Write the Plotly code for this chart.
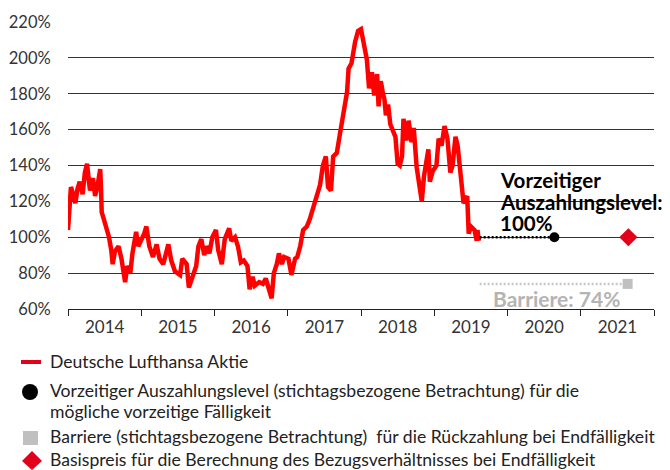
import plotly.graph_objects as go

# ---- data -------------------------------------------------------------
years = [2014.00, 2014.02, 2014.04, 2014.07, 2014.10, 2014.13, 2014.16, 2014.20, 2014.23, 2014.26,
         2014.30, 2014.34, 2014.37, 2014.40, 2014.44, 2014.45, 2014.46, 2014.49, 2014.53, 2014.56,
         2014.59, 2014.61, 2014.64, 2014.69, 2014.73, 2014.78, 2014.81, 2014.85, 2014.88, 2014.93,
         2014.96, 2015.01, 2015.04, 2015.07, 2015.11, 2015.16, 2015.21, 2015.25, 2015.30, 2015.37,
         2015.41, 2015.46, 2015.53, 2015.56, 2015.62, 2015.65, 2015.70, 2015.75, 2015.78, 2015.82,
         2015.86, 2015.89, 2015.93, 2015.97, 2016.02, 2016.05, 2016.10, 2016.14, 2016.20, 2016.23,
         2016.28, 2016.32, 2016.36, 2016.40, 2016.45, 2016.48, 2016.52, 2016.55, 2016.61, 2016.66,
         2016.70, 2016.75, 2016.78, 2016.81, 2016.85, 2016.88, 2016.92, 2016.95, 2017.01, 2017.05,
         2017.10, 2017.13, 2017.17, 2017.21, 2017.26, 2017.30, 2017.35, 2017.39, 2017.44, 2017.48,
         2017.52, 2017.55, 2017.59, 2017.62, 2017.67, 2017.71, 2017.75, 2017.81, 2017.83, 2017.87,
         2017.92, 2017.96, 2018.00, 2018.02, 2018.08, 2018.11, 2018.15, 2018.18, 2018.22, 2018.24,
         2018.27, 2018.30, 2018.32, 2018.34, 2018.37, 2018.40, 2018.43, 2018.47, 2018.50, 2018.53,
         2018.56, 2018.58, 2018.62, 2018.65, 2018.69, 2018.72, 2018.76, 2018.80, 2018.83, 2018.86,
         2018.90, 2018.92, 2018.94, 2018.98, 2019.03, 2019.06, 2019.10, 2019.14, 2019.18, 2019.22,
         2019.25, 2019.29, 2019.32, 2019.37, 2019.40, 2019.45, 2019.47, 2019.50, 2019.55, 2019.58,
         2019.59, 2019.61]
share_pct = [104, 121, 128, 124, 119, 127, 131, 124, 136, 141,
             126, 133, 123, 128, 138, 128, 114, 110, 104, 100,
             93, 85, 92, 95, 88, 75, 84, 80, 91, 103,
             95, 99, 102, 106, 95, 89, 96, 88, 85, 96,
             87, 81, 79, 88, 85, 72, 78, 84, 95, 99,
             90, 95, 91, 100, 104, 93, 85, 99, 105, 98,
             100, 95, 86, 87, 84, 71, 78, 73, 75, 74,
             77, 71, 66, 80, 85, 91, 85, 89, 88, 79,
             88, 89, 95, 104, 106, 110, 117, 121, 129, 140,
             145, 128, 126, 145, 147, 157, 168, 181, 194, 197,
             209, 215, 216, 211, 199, 183, 192, 179, 191, 173,
             187, 180, 177, 168, 174, 163, 160, 156, 141, 140,
             145, 166, 154, 165, 153, 161, 139, 130, 120, 134,
             142, 149, 131, 137, 140, 155, 151, 162, 155, 136,
             140, 156, 151, 127, 119, 123, 102, 106, 104, 98,
             104, 98]

start_year = 2019.62
early_redemption_year = 2020.64
early_redemption_level = 100
barrier_year = 2021.64
barrier_level = 74
strike_year = 2021.65
strike_level = 100

year_labels = ["2014", "2015", "2016", "2017", "2018", "2019", "2020", "2021"]
y_ticks = [60, 80, 100, 120, 140, 160, 180, 200, 220]

legend_texts = [
    "Deutsche Lufthansa Aktie",
    "Vorzeitiger Auszahlungslevel (stichtagsbezogene Betrachtung) für die",
    "mögliche vorzeitige Fälligkeit",
    "Barriere (stichtagsbezogene Betrachtung)  für die Rückzahlung bei Endfälligkeit",
    "Basispreis für die Berechnung des Bezugsverhältnisses bei Endfälligkeit",
]

# ---- layout constants ---------------------------------------------------
OFF = 8                      # default page margin of the html body
W, H = 670 - OFF, 470 - OFF
L, R, T, B = 60, 16, 14, 161
PW, PH = W - L - R, H - T - B
FONT = "Lato"
RED = "#ff0000"
CRIMSON = "#e2001a"
GREY = "#c0c0c0"


def px(x):
    """page pixel x -> paper coordinate"""
    return (x - OFF - L) / PW


def py(y):
    """page pixel y -> paper coordinate"""
    return (H - B - (y - OFF)) / PH


fig = go.Figure()

fig.add_trace(go.Scatter(x=years, y=share_pct, mode="lines",
                         line=dict(color=RED, width=4.5), showlegend=False,
                         hoverinfo="skip"))
fig.add_trace(go.Scatter(x=[start_year, early_redemption_year],
                         y=[early_redemption_level, early_redemption_level],
                         mode="lines", line=dict(color="#000000", width=2.5, dash="2px,2px"),
                         showlegend=False))
fig.add_trace(go.Scatter(x=[start_year, barrier_year], y=[barrier_level, barrier_level],
                         mode="lines", line=dict(color="#c8c8c8", width=2.5, dash="2px,2px"),
                         showlegend=False))
fig.add_trace(go.Scatter(x=[early_redemption_year], y=[early_redemption_level], mode="markers",
                         marker=dict(color="#000000", size=10, symbol="circle"), showlegend=False))
fig.add_trace(go.Scatter(x=[barrier_year], y=[barrier_level], mode="markers",
                         marker=dict(color=GREY, size=10, symbol="square"), showlegend=False))
fig.add_trace(go.Scatter(x=[strike_year], y=[strike_level], mode="markers",
                         marker=dict(color=CRIMSON, size=14, symbol="diamond"), showlegend=False))

fig.update_layout(
    width=W, height=H,
    margin=dict(l=L, r=R, t=T, b=B, autoexpand=False),
    paper_bgcolor="white", plot_bgcolor="white",
    font=dict(family=FONT, size=17, color="#222222"),
)

fig.update_xaxes(
    range=[2014, 2022], tickmode="array", automargin=False,
    tickvals=[2014.5 + i for i in range(len(year_labels))], ticktext=year_labels,
    ticks="outside", ticklen=3, tickcolor="rgba(0,0,0,0)",
    showgrid=False, zeroline=False,
    showline=True, linecolor="#222222", linewidth=1,
    minor=dict(tickmode="linear", tick0=2014, dtick=1, ticks="outside", ticklen=6,
               tickcolor="#222222", tickwidth=1, showgrid=False),
    tickfont=dict(family=FONT, size=17, color="#333333"),
)
fig.update_yaxes(
    range=[60, 220], tickmode="array", tickvals=y_ticks, automargin=False,
    ticktext=[f"{v}%" for v in y_ticks],
    showgrid=True, gridcolor="#333333", gridwidth=1, zeroline=False,
    ticks="outside", ticklen=13, tickcolor="rgba(0,0,0,0)",
    tickfont=dict(family=FONT, size=16.5, color="#333333"),
)

annotations = []
for txt, yy in zip(["Vorzeitiger", "Auszahlungslevel:", "100%"], [180, 202, 223]):
    annotations.append(dict(x=px(498), y=py(yy), xref="paper", yref="paper", text=f"<b>{txt}</b>",
                            showarrow=False, xanchor="left", yanchor="middle",
                            font=dict(family=FONT, size=20.5, color="#000000")))
annotations.append(dict(x=px(491), y=py(298), xref="paper", yref="paper", text="<b>Barriere: 74%</b>",
                        showarrow=False, xanchor="left", yanchor="middle",
                        font=dict(family=FONT, size=21, color="#b4b4b4")))

for txt, yy in zip(legend_texts, [361, 391, 411, 437, 459.5]):
    annotations.append(dict(x=px(48), y=py(yy), xref="paper", yref="paper", text=txt,
                            showarrow=False, xanchor="left", yanchor="middle",
                            font=dict(family=FONT, size=17.6, color="#222222")))

shapes = [
    dict(type="line", xref="paper", yref="paper", x0=px(21), x1=px(41), y0=py(362), y1=py(362),
         line=dict(color=CRIMSON, width=4)),
    dict(type="circle", xref="paper", yref="paper", x0=px(22), x1=px(38), y0=py(384), y1=py(400),
         fillcolor="#000000", line=dict(width=0)),
    dict(type="rect", xref="paper", yref="paper", x0=px(23), x1=px(38), y0=py(431), y1=py(445),
         fillcolor=GREY, line=dict(width=0)),
    dict(type="path", xref="paper", yref="paper",
         path=f"M {px(22)},{py(461)} L {px(32)},{py(451)} L {px(42)},{py(461)} L {px(32)},{py(470)} Z",
         fillcolor=CRIMSON, line=dict(width=0)),
]

fig.update_layout(annotations=annotations, shapes=shapes)
fig.write_html("out.html")
